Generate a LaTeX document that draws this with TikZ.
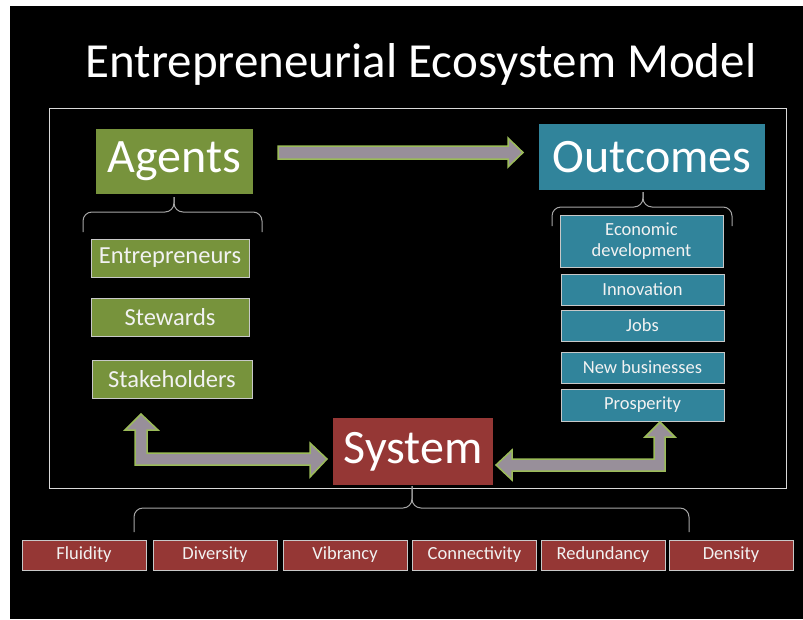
\documentclass[tikz,border=0pt]{standalone}
\usepackage{fontspec}
\setmainfont{Carlito}
\usetikzlibrary{calc}

\definecolor{agentgreen}{HTML}{77933C}
\definecolor{outteal}{HTML}{31849B}
\definecolor{sysred}{HTML}{953735}
\definecolor{arrowgray}{HTML}{988F9A}
\definecolor{arrowline}{HTML}{9BBB59}
\definecolor{bracegray}{HTML}{A6A6A6}
\definecolor{boxline}{HTML}{C8C8C8}

\begin{document}
\begin{tikzpicture}[x=1pt,y=-1pt,
	bigbox/.style={inner sep=0pt, text=white, font=\fontsize{48}{50}\selectfont},
	smallbox/.style={draw=boxline, line width=1pt, inner sep=0pt, text=white!95!black},
	blockarrow/.style={draw=arrowline, fill=arrowgray, line width=1.5pt, line join=miter},
	brace/.style={draw=bracegray, line width=1pt, rounded corners=9pt}]

% fond
\fill [white](0,0) rectangle (803,619);
\fill [black](10,6) rectangle (803,619);
\draw [white!85!black, line width=1pt](49,108) rectangle (786,488);

% titre
\node (title) [anchor=base, text=white, font=\fontsize{49}{52}\selectfont] at (421,77) {Entrepreneurial Ecosystem Model};

% trois blocs
\node (agents) [bigbox, fill=agentgreen, minimum width=157pt, minimum height=65pt] at (174.5,161.5) {Agents};
\node (outcomes) [bigbox, fill=outteal, minimum width=226pt, minimum height=66pt] at (652,157) {Outcomes};
\node (system) [bigbox, fill=sysred, minimum width=160pt, minimum height=67pt] at (413,451.5) {System};

% agents
\begin{scope}[every node/.style={smallbox, fill=agentgreen, minimum height=38pt, font=\fontsize{24.5}{26}\selectfont}]
\node (entr) [minimum width=158pt] at (170,258) {Entrepreneurs};
\node (stew) [minimum width=158pt] at (170,317) {Stewards};
\node (stake) [minimum width=160pt] at (172,379) {Stakeholders};
\end{scope}

% outcomes
\begin{scope}[every node/.style={smallbox, fill=outteal, minimum width=163pt, minimum height=31pt, font=\fontsize{18.5}{21.5}\selectfont}]
\node (econ) [minimum height=52pt, align=center] at (641.5,241) {Economic\\development};
\node (innov) at (642.5,289.5) {Innovation};
\node (jobs) at (642.5,325.5) {Jobs};
\node (newbiz) at (642.5,367.5) {New businesses};
\node (prosp) [minimum height=32pt] at (642.5,405) {Prosperity};
\end{scope}

% system
\begin{scope}[every node/.style={smallbox, fill=sysred, minimum width=124pt, minimum height=30pt, font=\fontsize{18.5}{20}\selectfont}]
\node (fluid) at (84,555) {Fluidity};
\node (divers) at (215,555) {Diversity};
\node (vibr) at (345,555) {Vibrancy};
\node (conn) at (474.5,555) {Connectivity};
\node (redund) at (603,555) {Redundancy};
\node (dens) at (731,555) {Density};
\end{scope}

% accolades
\draw [brace](83,232)--(83,212)--(174,212)--(174,197);
\draw [brace](262,232)--(262,212)--(174,212)--(174,197);

\draw [brace](552,226)--(552,207)--(643,207)--(643,192);
\draw [brace](732,226)--(732,207)--(643,207)--(643,192);

\draw [brace](134,532)--(134,508)--(412,508)--(412,486);
\draw [brace](689,532)--(689,508)--(412,508)--(412,486);

% fleche agents -> outcomes
\draw [blockarrow](278,146)--(508,146)--(508,138)--(523,152.5)--(508,167)--(508,159)--(278,159)--cycle;

% fleche stakeholders <-> system
\draw [blockarrow](141,414)--(158,430)--(147,430)--(147,453)--(310,453)--(310,443)--(327,459)
	--(310,477)--(310,465)--(135,465)--(135,430)--(125,430)--cycle;

% fleche system <-> prosperity
\draw [blockarrow](496,465)--(512,450)--(512,459)--(654,459)--(654,437)--(645,437)--(660,422)
	--(675,437)--(665,437)--(665,471)--(512,471)--(512,480)--cycle;

\end{tikzpicture}
\end{document}
